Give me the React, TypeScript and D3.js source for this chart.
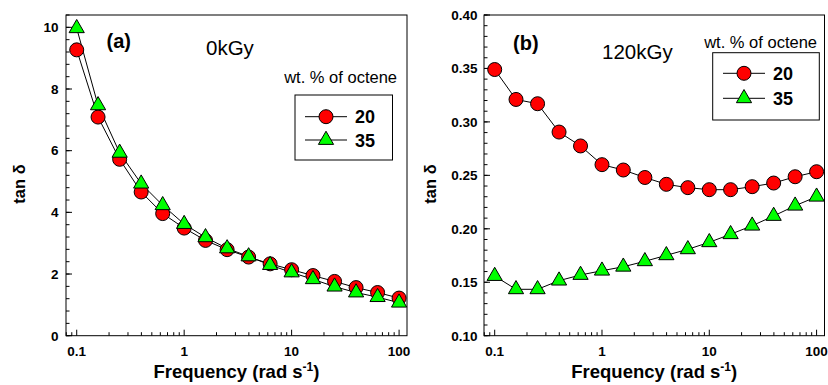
import React from 'react';
import * as d3 from 'd3';

// frequency sweep (rad/s), 5 points per decade
const freq = [0.1, 0.158, 0.251, 0.398, 0.631, 1, 1.58, 2.51, 3.98, 6.31, 10, 15.8, 25.1, 39.8, 63.1, 100];

// (a) 0kGy
const tanA20 = [9.27, 7.09, 5.72, 4.66, 3.96, 3.49, 3.09, 2.79, 2.55, 2.33, 2.14, 1.95, 1.76, 1.56, 1.40, 1.22];
const tanA35 = [9.97, 7.47, 5.93, 4.93, 4.23, 3.62, 3.19, 2.83, 2.57, 2.29, 2.05, 1.83, 1.59, 1.40, 1.25, 1.07];

// (b) 120kGy
const tanB20 = [0.349, 0.321, 0.317, 0.2905, 0.2775, 0.260, 0.255, 0.248, 0.2416, 0.2385, 0.2366, 0.2366, 0.2394, 0.2428, 0.2487, 0.2534];
const tanB35 = [0.1558, 0.1434, 0.1434, 0.1515, 0.1568, 0.1608, 0.1645, 0.1696, 0.1752, 0.1808, 0.1874, 0.1949, 0.2029, 0.212, 0.2216, 0.230];

const xTickLabels = ['0.1', '1', '10', '100'];
const legendTitle = 'wt. % of octene';
const seriesNames = ['20', '35'];

const FONT = '"Liberation Sans", Arial, Helvetica, sans-serif';
const RED = '#ff0000';
const GREEN = '#00ff00';

const triPath = d3.symbol(d3.symbolTriangle, 100)();

type PanelProps = {
  left: number;
  right: number;
  yDomain: [number, number];
  yMajor: number[];
  yMinorStep: number;
  yFmt: (v: number) => string;
  s20: number[];
  s35: number[];
  tag: string;
  dose: string;
  tagPos: [number, number];
  dosePos: [number, number];
  legend: { x0: number; x1: number; y0: number; y1: number; titleX: number; titleY: number; row1: number; row2: number; lineX0: number; lineX1: number; textX: number };
  yTitleX: number;
  labelRight: number;
};

const top = 15;
const bottom = 335.7;

const Panel = (p: PanelProps) => {
  const x = d3.scaleLog().domain([0.0795, 118.5]).range([p.left, p.right]);
  const y = d3.scaleLinear().domain(p.yDomain).range([bottom, top]);

  const line = d3.line<number>()
    .x((_, i) => x(freq[i]))
    .y(d => y(d));

  const xt = x.ticks();
  const yMinor = d3.range(p.yDomain[0], p.yDomain[1] + 1e-9, p.yMinorStep);

  const midX = (p.left + p.right) / 2;

  return (
    <g>
      {/* frame */}
      <rect x={p.left} y={top} width={p.right - p.left} height={bottom - top} fill="none" stroke="#000" strokeWidth={1} />

      {/* x ticks, inward */}
      {xt.map((t, i) => {
        const major = Math.abs(Math.log10(t) - Math.round(Math.log10(t))) < 1e-6;
        return <line key={'xt' + i} x1={x(t)} x2={x(t)} y1={bottom} y2={bottom - (major ? 6 : 3.5)} stroke="#000" strokeWidth={1} />;
      })}
      {xTickLabels.map(l => (
        <text key={'xl' + l} x={x(+l)} y={356} textAnchor="middle" fontFamily={FONT} fontWeight="bold" fontSize={13.5}>{l}</text>
      ))}

      {/* y ticks, inward */}
      {yMinor.map((t, i) => (
        <line key={'ym' + i} x1={p.left} x2={p.left + 3.5} y1={y(t)} y2={y(t)} stroke="#000" strokeWidth={1} />
      ))}
      {p.yMajor.map((t, i) => (
        <g key={'yM' + i}>
          <line x1={p.left} x2={p.left + 6} y1={y(t)} y2={y(t)} stroke="#000" strokeWidth={1} />
          <text x={p.labelRight} y={y(t) + 4.8} textAnchor="end" fontFamily={FONT} fontWeight="bold" fontSize={13.5}>{p.yFmt(t)}</text>
        </g>
      ))}

      {/* axis titles */}
      <text x={midX} y={378} textAnchor="middle" fontFamily={FONT} fontWeight="bold" fontSize={18.5}>
        Frequency (rad s<tspan dy={-7} fontSize={12}>-1</tspan><tspan dy={7}>)</tspan>
      </text>
      <text transform={`translate(${p.yTitleX},184) rotate(-90)`} textAnchor="middle" fontFamily={FONT} fontWeight="bold" fontSize={16.5}>tan δ</text>

      {/* series */}
      <path d={line(p.s20) || ''} fill="none" stroke="#000" strokeWidth={1} />
      <path d={line(p.s35) || ''} fill="none" stroke="#000" strokeWidth={1} />
      {p.s20.map((v, i) => (
        <circle key={'c' + i} cx={x(freq[i])} cy={y(v)} r={7} fill={RED} stroke="#000" strokeWidth={1} />
      ))}
      {p.s35.map((v, i) => (
        <path key={'t' + i} d={triPath || ''} transform={`translate(${x(freq[i])},${y(v)})`} fill={GREEN} stroke="#000" strokeWidth={1} />
      ))}

      {/* annotations */}
      <text x={p.tagPos[0]} y={p.tagPos[1]} fontFamily={FONT} fontWeight="bold" fontSize={20}>{p.tag}</text>
      <text x={p.dosePos[0]} y={p.dosePos[1]} fontFamily={FONT} fontSize={20.5}>{p.dose}</text>

      {/* legend */}
      <text x={p.legend.titleX} y={p.legend.titleY} textAnchor="end" fontFamily={FONT} fontSize={16.5}>{legendTitle}</text>
      <rect x={p.legend.x0} y={p.legend.y0} width={p.legend.x1 - p.legend.x0} height={p.legend.y1 - p.legend.y0} fill="#fff" stroke="#000" strokeWidth={1} />
      {[p.legend.row1, p.legend.row2].map((ry, i) => {
        const cx = (p.legend.lineX0 + p.legend.lineX1) / 2;
        return (
          <g key={'lg' + i}>
            <line x1={p.legend.lineX0} x2={p.legend.lineX1} y1={ry} y2={ry} stroke="#000" strokeWidth={1} />
            {i === 0
              ? <circle cx={cx} cy={ry} r={7} fill={RED} stroke="#000" strokeWidth={1} />
              : <path d={triPath || ''} transform={`translate(${cx},${ry})`} fill={GREEN} stroke="#000" strokeWidth={1} />}
            <text x={p.legend.textX} y={ry + 6.5} fontFamily={FONT} fontWeight="bold" fontSize={18}>{seriesNames[i]}</text>
          </g>
        );
      })}
    </g>
  );
};

export default function App() {
  return (
    <svg width={828} height={385} style={{ position: 'absolute', left: 0, top: 0, background: '#fff' }}>
      <rect width={828} height={385} fill="#fff" />
      <Panel
        left={66}
        right={407}
        yDomain={[0, 10.4]}
        yMajor={[0, 2, 4, 6, 8, 10]}
        yMinorStep={0.4}
        yFmt={v => String(v)}
        s20={tanA20}
        s35={tanA35}
        tag="(a)"
        dose="0kGy"
        tagPos={[106.5, 48]}
        dosePos={[206, 55]}
        legend={{ x0: 295, x1: 392.5, y0: 95, y1: 160, titleX: 397, titleY: 83, row1: 116.7, row2: 140, lineX0: 305, lineX1: 347, textX: 355 }}
        yTitleX={25}
        labelRight={58.5}
      />
      <Panel
        left={484}
        right={824.5}
        yDomain={[0.1, 0.4]}
        yMajor={[0.1, 0.15, 0.2, 0.25, 0.3, 0.35, 0.4]}
        yMinorStep={0.01}
        yFmt={d3.format('.2f')}
        s20={tanB20}
        s35={tanB35}
        tag="(b)"
        dose="120kGy"
        tagPos={[513, 50]}
        dosePos={[602, 58.5]}
        legend={{ x0: 712.7, x1: 819.3, y0: 52.7, y1: 120, titleX: 817, titleY: 47.5, row1: 73.3, row2: 98.3, lineX0: 723, lineX1: 765, textX: 773 }}
        yTitleX={436}
        labelRight={477.5}
      />
    </svg>
  );
}
